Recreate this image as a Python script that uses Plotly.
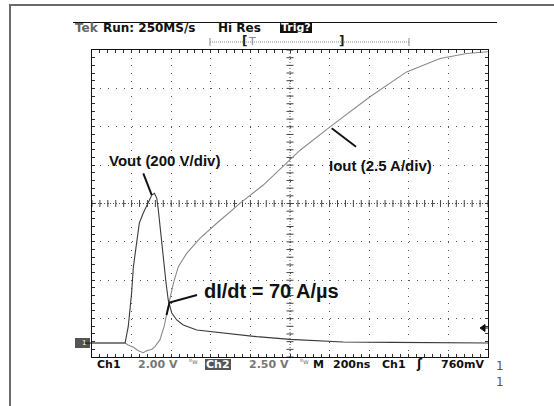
import numpy as np
import plotly.graph_objects as go

# ---- acquisition settings ----
NS_PER_DIV = 200.0      # M 200ns
V_PER_DIV = 200.0       # Vout probe scale
A_PER_DIV = 2.5         # Iout probe scale
GROUND_DIV = -3.635     # channel ground marker, in divisions from centre

# ---- captured waveforms ----
t_vout_ns = [0, 167, 183, 200, 209, 226, 239, 259, 284, 302, 315, 327, 335, 347,
             360, 374, 385, 403, 428, 461, 529, 662, 832, 1000, 1268, 1520, 2000]
vout_v = [0, 0, 85, 260, 397, 521, 625, 677, 736, 771, 780, 755, 693, 573,
          432, 313, 224, 156, 120, 94, 68, 52, 33, 19, 5, 3, 0]

t_iout_ns = [0, 167, 183, 209, 234, 259, 276, 302, 318, 343, 364, 377, 394, 411,
             436, 478, 545, 630, 747, 865, 983, 1051, 1202, 1404, 1589, 1758, 1892, 2000]
iout_a = [0, 0, -0.13, -0.28, -0.50, -0.63, -0.50, -0.41, -0.24, 0.20, 1.06, 1.93,
          2.91, 3.89, 4.97, 5.84, 6.82, 7.80, 9.10, 10.29, 11.70, 12.56, 14.08,
          16.04, 17.66, 18.53, 18.86, 18.97]

# ---- screen readout text ----
header_items = [("Tek", 73, "#666666"), ("Run: 250MS/s", 101, "#111111"),
                ("Hi Res", 216, "#111111")]
footer_items = [("Ch1", 95, "#111111"), ("2.00 V", 136, "#777777"),
                ("2.50 V", 247, "#777777"), ("M", 311, "#111111"),
                ("200ns", 331, "#111111"), ("Ch1", 380, "#111111"),
                ("760mV", 439, "#111111")]

W, H = 554, 406
L, R, T, B = 92, 488, 50, 357


def px(x):
    return (x - L) / (R - L)


def py(y):
    return (B - y) / (B - T)


x_v = [t / NS_PER_DIV for t in t_vout_ns]
y_v = [v / V_PER_DIV + GROUND_DIV for v in vout_v]
x_i = [t / NS_PER_DIV for t in t_iout_ns]
y_i = [a / A_PER_DIV + GROUND_DIV for a in iout_a]

fig = go.Figure()

# centre cross-hair with minor ticks
minor = np.round(np.arange(0, 10.001, 0.2), 3)
minor_y = np.round(np.arange(-4, 4.001, 0.2), 3)
fig.add_trace(go.Scatter(x=minor, y=[0] * len(minor), mode="markers",
                         marker=dict(symbol="line-ns", size=5, color="#444",
                                     line=dict(width=1, color="#444")),
                         hoverinfo="skip", showlegend=False))
fig.add_trace(go.Scatter(x=[5] * len(minor_y), y=minor_y, mode="markers",
                         marker=dict(symbol="line-ew", size=5, color="#444",
                                     line=dict(width=1, color="#444")),
                         hoverinfo="skip", showlegend=False))

# waveforms
fig.add_trace(go.Scatter(x=x_i, y=y_i, mode="lines", name="Iout",
                         line=dict(color="#8a8a8a", width=1.1), showlegend=False))
fig.add_trace(go.Scatter(x=x_v, y=y_v, mode="lines", name="Vout",
                         line=dict(color="#3a3a3a", width=1.1), showlegend=False))

shapes = []
# centre lines
shapes.append(dict(type="line", xref="x", yref="y", x0=5, x1=5, y0=-4, y1=4,
                   line=dict(color="#555", width=1, dash="1px,2px"), layer="below"))
shapes.append(dict(type="line", xref="x", yref="y", x0=0, x1=10, y0=0, y1=0,
                   line=dict(color="#555", width=1, dash="1px,2px"), layer="below"))
# outer page frame (top and left)
shapes.append(dict(type="line", xref="paper", yref="paper", x0=px(9), x1=px(554),
                   y0=py(5), y1=py(5), line=dict(color="#6a6a6a", width=2)))
shapes.append(dict(type="line", xref="paper", yref="paper", x0=px(10), x1=px(10),
                   y0=py(5), y1=py(406), line=dict(color="#6a6a6a", width=2)))
# header rule
shapes.append(dict(type="line", xref="paper", yref="paper", x0=px(73), x1=px(497),
                   y0=py(22.5), y1=py(22.5), line=dict(color="#111", width=1)))
# record-position ruler
shapes.append(dict(type="line", xref="paper", yref="paper", x0=px(210), x1=px(409),
                   y0=py(42), y1=py(42), line=dict(color="#888", width=1, dash="1px,1px")))
for xx in (210, 409):
    shapes.append(dict(type="line", xref="paper", yref="paper", x0=px(xx), x1=px(xx),
                       y0=py(38), y1=py(46), line=dict(color="#888", width=1)))
# Trig? and Ch2 inverted boxes
shapes.append(dict(type="rect", xref="paper", yref="paper", x0=px(280), x1=px(312),
                   y0=py(33), y1=py(23), fillcolor="#111", line=dict(width=0)))
shapes.append(dict(type="rect", xref="paper", yref="paper", x0=px(205), x1=px(231),
                   y0=py(370), y1=py(359), fillcolor="#555", line=dict(width=0)))
# ground marker
shapes.append(dict(type="rect", xref="paper", yref="paper", x0=px(75), x1=px(90),
                   y0=py(348), y1=py(338), fillcolor="#555", line=dict(width=0)))
shapes.append(dict(type="line", xref="paper", yref="paper", x0=px(84), x1=px(92),
                   y0=py(343), y1=py(343), line=dict(color="#111", width=1)))
# trigger level arrow
shapes.append(dict(type="path", xref="paper", yref="paper",
                   path=f"M {px(480)} {py(328)} L {px(485)} {py(324.5)} L {px(485)} {py(331.5)} Z",
                   fillcolor="#111", line=dict(color="#111", width=1)))
shapes.append(dict(type="line", xref="paper", yref="paper", x0=px(484), x1=px(488),
                   y0=py(328), y1=py(328), line=dict(color="#111", width=1)))
# callout leaders
shapes.append(dict(type="line", xref="paper", yref="paper", x0=px(143.3), x1=px(151.7),
                   y0=py(173.3), y1=py(195), line=dict(color="#111", width=2)))
shapes.append(dict(type="line", xref="paper", yref="paper", x0=px(331.7), x1=px(356),
                   y0=py(128.3), y1=py(146.7), line=dict(color="#111", width=2)))
shapes.append(dict(type="path", xref="paper", yref="paper",
                   path=f"M {px(197)} {py(295)} L {px(169.5)} {py(302.5)} L {px(166.5)} {py(315)}",
                   line=dict(color="#111", width=2)))

annotations = []


def txt(s, x, y, size=12, color="#111", family="DejaVu Sans", anchor="left", bg=None,
        weight="normal"):
    a = dict(text=s, xref="paper", yref="paper", x=px(x), y=py(y), xanchor=anchor,
             yanchor="middle", showarrow=False,
             font=dict(family=family, size=size, color=color, weight=weight))
    if bg:
        a["bgcolor"] = bg
        a["borderpad"] = 0
    annotations.append(a)


for s, x, c in header_items:
    txt(s, x, 28, 12, c, weight="bold")
txt("Trig?", 296, 28, 11, "#ffffff", anchor="center", weight="bold")
txt("[", 240, 41, 12, "#222", weight="bold")
txt("T", 246, 41, 11, "#888")
txt("]", 337, 41, 12, "#222", weight="bold")

for s, x, c in footer_items:
    txt(s, x, 364, 11, c, weight="bold")
txt("Ch2", 218, 364.5, 11, "#ffffff", anchor="center", weight="bold")
txt("ᴮw", 187, 362, 7, "#777")
txt("ᴮw", 298, 362, 7, "#777")
txt("ʃ", 414, 364, 12, "#111", weight="bold")
txt("1", 494, 366, 12, "#555")
txt("1", 494, 382, 12, "#555")
txt("1", 80, 343, 7, "#ffffff")

txt("<b>Vout (200 V/div)</b>", 107, 160, 15, "#111", family="Liberation Sans")
txt("<b>Iout (2.5 A/div)</b>", 327, 165, 15, "#111", family="Liberation Sans")
txt("<b>dI/dt = 70 A/µs</b>", 202, 291, 20, "#111", family="Liberation Sans")

axis_common = dict(showline=True, linecolor="#111", linewidth=1, mirror="ticks",
                   ticks="inside", ticklen=3, tickcolor="#333", tickwidth=1,
                   showticklabels=False, zeroline=False, showgrid=True,
                   gridcolor="#555", gridwidth=1, fixedrange=True)

fig.update_layout(
    width=W, height=H,
    margin=dict(l=L, r=W - R, t=T, b=H - B, pad=0),
    paper_bgcolor="white", plot_bgcolor="white",
    xaxis=dict(range=[0, 10], dtick=1, tick0=0, griddash="1px,6.68px",
               minor=dict(dtick=0.2, tick0=0, ticks="inside", ticklen=3,
                          tickcolor="#333", showgrid=False),
               **axis_common),
    yaxis=dict(range=[-4, 4], dtick=1, tick0=0, griddash="1px,6.92px",
               minor=dict(dtick=0.2, tick0=0, ticks="inside", ticklen=3,
                          tickcolor="#333", showgrid=False),
               **axis_common),
    shapes=shapes,
    annotations=annotations,
)

fig.write_html("out.html")
